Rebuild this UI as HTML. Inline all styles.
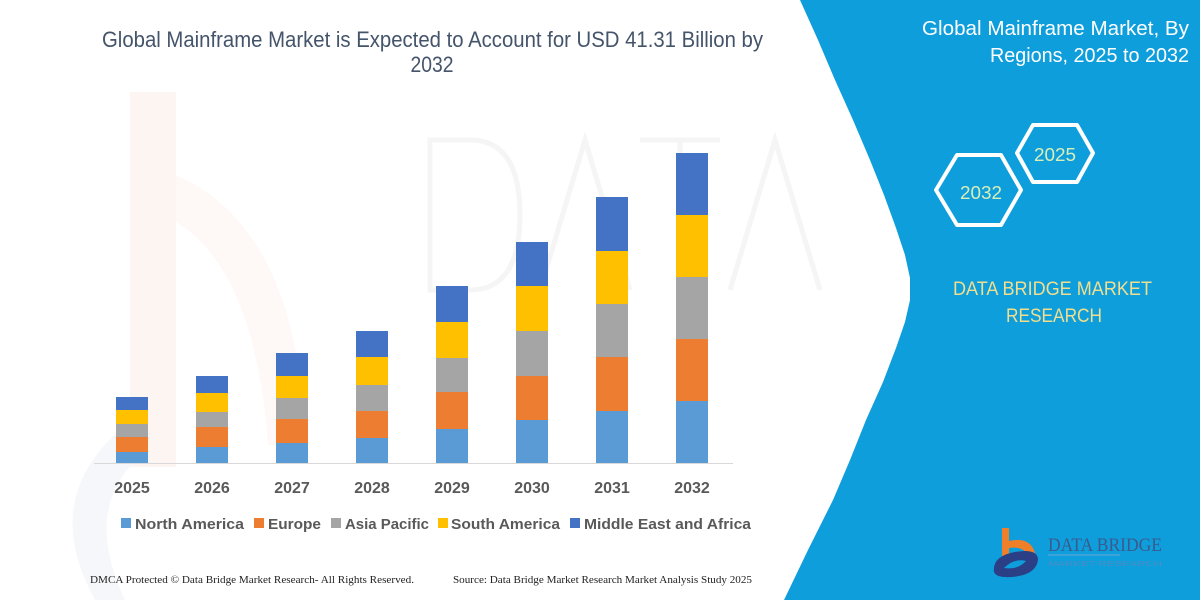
<!DOCTYPE html>
<html>
<head>
<meta charset="utf-8">
<style>
  html,body{margin:0;padding:0;background:#fff;}
  body{width:1200px;height:600px;overflow:hidden;}
  svg{display:block;}
</style>
</head>
<body>
<svg width="1200" height="600" viewBox="0 0 1200 600" xmlns="http://www.w3.org/2000/svg">
  <rect x="0" y="0" width="1200" height="600" fill="#ffffff"/>

  <!-- faint watermark: big "b" logo on left -->
  <rect x="130" y="92" width="46" height="375" fill="#fdf5f2"/>
  <path d="M176,175 Q300,230 305,445 L268,445 Q255,270 176,222 Z" fill="#fef9f7"/>
  <path d="M120,430 Q40,500 95,600 L125,600 Q80,505 145,452 Z" fill="#f6f7fa"/>
  <!-- faint watermark letters -->
  <g fill="none" stroke="#f5f5f5" stroke-width="5">
    <path d="M430,140 L430,290 L470,290 Q520,290 520,215 Q520,140 470,140 Z"/>
    <path d="M540,290 L585,140 L630,290"/>
    <path d="M640,140 L720,140 M680,140 L680,290"/>
    <path d="M730,290 L775,140 L820,290"/>
  </g>

  <!-- blue right panel -->
  <path d="M800,0 L818,40 L835,80 L853,120 L870,160 L884,195 L896,228 L905,255 L910,278 L910,300 L905,322 L896,348 L883,382 L866,420 L850,460 L833,500 L808,550 L784,600 L1200,600 L1200,0 Z" fill="#0e9edb"/>

  <!-- title -->
  <text x="102" y="47" font-family="Liberation Sans, sans-serif" font-size="22" fill="#44546a" textLength="661" lengthAdjust="spacingAndGlyphs">Global Mainframe Market is Expected to Account for USD 41.31 Billion by</text>
  <text x="432" y="72" font-family="Liberation Sans, sans-serif" font-size="22" fill="#44546a" text-anchor="middle" textLength="43" lengthAdjust="spacingAndGlyphs">2032</text>

  <!-- bars -->
  <g>
    <!-- 2025 -->
    <rect x="116" y="397" width="32" height="13" fill="#4472c4"/>
    <rect x="116" y="410" width="32" height="14" fill="#ffc000"/>
    <rect x="116" y="424" width="32" height="13" fill="#a5a5a5"/>
    <rect x="116" y="437" width="32" height="15" fill="#ed7d31"/>
    <rect x="116" y="452" width="32" height="11" fill="#5b9bd5"/>
    <!-- 2026 -->
    <rect x="196" y="376" width="32" height="17" fill="#4472c4"/>
    <rect x="196" y="393" width="32" height="19" fill="#ffc000"/>
    <rect x="196" y="412" width="32" height="15" fill="#a5a5a5"/>
    <rect x="196" y="427" width="32" height="20" fill="#ed7d31"/>
    <rect x="196" y="447" width="32" height="16" fill="#5b9bd5"/>
    <!-- 2027 -->
    <rect x="276" y="353" width="32" height="23" fill="#4472c4"/>
    <rect x="276" y="376" width="32" height="22" fill="#ffc000"/>
    <rect x="276" y="398" width="32" height="21" fill="#a5a5a5"/>
    <rect x="276" y="419" width="32" height="24" fill="#ed7d31"/>
    <rect x="276" y="443" width="32" height="20" fill="#5b9bd5"/>
    <!-- 2028 -->
    <rect x="356" y="331" width="32" height="26" fill="#4472c4"/>
    <rect x="356" y="357" width="32" height="28" fill="#ffc000"/>
    <rect x="356" y="385" width="32" height="26" fill="#a5a5a5"/>
    <rect x="356" y="411" width="32" height="27" fill="#ed7d31"/>
    <rect x="356" y="438" width="32" height="25" fill="#5b9bd5"/>
    <!-- 2029 -->
    <rect x="436" y="286" width="32" height="36" fill="#4472c4"/>
    <rect x="436" y="322" width="32" height="36" fill="#ffc000"/>
    <rect x="436" y="358" width="32" height="34" fill="#a5a5a5"/>
    <rect x="436" y="392" width="32" height="37" fill="#ed7d31"/>
    <rect x="436" y="429" width="32" height="34" fill="#5b9bd5"/>
    <!-- 2030 -->
    <rect x="516" y="242" width="32" height="44" fill="#4472c4"/>
    <rect x="516" y="286" width="32" height="45" fill="#ffc000"/>
    <rect x="516" y="331" width="32" height="45" fill="#a5a5a5"/>
    <rect x="516" y="376" width="32" height="44" fill="#ed7d31"/>
    <rect x="516" y="420" width="32" height="43" fill="#5b9bd5"/>
    <!-- 2031 -->
    <rect x="596" y="197" width="32" height="54" fill="#4472c4"/>
    <rect x="596" y="251" width="32" height="53" fill="#ffc000"/>
    <rect x="596" y="304" width="32" height="53" fill="#a5a5a5"/>
    <rect x="596" y="357" width="32" height="54" fill="#ed7d31"/>
    <rect x="596" y="411" width="32" height="52" fill="#5b9bd5"/>
    <!-- 2032 -->
    <rect x="676" y="153" width="32" height="62" fill="#4472c4"/>
    <rect x="676" y="215" width="32" height="62" fill="#ffc000"/>
    <rect x="676" y="277" width="32" height="62" fill="#a5a5a5"/>
    <rect x="676" y="339" width="32" height="62" fill="#ed7d31"/>
    <rect x="676" y="401" width="32" height="62" fill="#5b9bd5"/>
  </g>

  <!-- axis -->
  <line x1="94" y1="463.5" x2="733" y2="463.5" stroke="#d9d9d9" stroke-width="1"/>

  <!-- year labels -->
  <g font-family="Liberation Sans, sans-serif" font-size="16" font-weight="bold" fill="#595959" text-anchor="middle">
    <text x="132" y="493">2025</text>
    <text x="212" y="493">2026</text>
    <text x="292" y="493">2027</text>
    <text x="372" y="493">2028</text>
    <text x="452" y="493">2029</text>
    <text x="532" y="493">2030</text>
    <text x="612" y="493">2031</text>
    <text x="692" y="493">2032</text>
  </g>

  <!-- legend -->
  <g font-family="Liberation Sans, sans-serif" font-size="15" font-weight="bold" fill="#595959">
    <rect x="121" y="518" width="10" height="10" fill="#5b9bd5"/>
    <text x="135" y="529" textLength="109" lengthAdjust="spacingAndGlyphs">North America</text>
    <rect x="254" y="518" width="10" height="10" fill="#ed7d31"/>
    <text x="268" y="529" textLength="53" lengthAdjust="spacingAndGlyphs">Europe</text>
    <rect x="331" y="518" width="10" height="10" fill="#a5a5a5"/>
    <text x="345" y="529" textLength="84" lengthAdjust="spacingAndGlyphs">Asia Pacific</text>
    <rect x="438" y="518" width="10" height="10" fill="#ffc000"/>
    <text x="451" y="529" textLength="109" lengthAdjust="spacingAndGlyphs">South America</text>
    <rect x="570" y="518" width="10" height="10" fill="#4472c4"/>
    <text x="584" y="529" textLength="167" lengthAdjust="spacingAndGlyphs">Middle East and Africa</text>
  </g>

  <!-- footer -->
  <g font-family="Liberation Serif, serif" font-size="11" fill="#222">
    <text x="90" y="583" textLength="324" lengthAdjust="spacingAndGlyphs">DMCA Protected © Data Bridge Market Research-  All Rights Reserved.</text>
    <text x="453" y="583" textLength="299" lengthAdjust="spacingAndGlyphs">Source: Data Bridge Market Research  Market Analysis Study 2025</text>
  </g>

  <!-- right panel title -->
  <g font-family="Liberation Sans, sans-serif" font-size="20" fill="#ffffff">
    <text x="922" y="35" textLength="267" lengthAdjust="spacingAndGlyphs">Global Mainframe Market, By</text>
    <text x="990" y="62" textLength="199" lengthAdjust="spacingAndGlyphs">Regions, 2025 to 2032</text>
  </g>

  <!-- hexagons -->
  <g fill="none" stroke="#ffffff" stroke-width="4" stroke-linejoin="round">
    <path d="M936,190 L957,155 L1001,155 L1021,190 L1001,225 L957,225 Z"/>
    <path d="M1017,153 L1033,125 L1077,125 L1093,153 L1077,182 L1033,182 Z"/>
  </g>
  <g font-family="Liberation Sans, sans-serif" font-size="18" fill="#d9efb8" text-anchor="middle">
    <text x="981" y="199" textLength="42" lengthAdjust="spacingAndGlyphs">2032</text>
    <text x="1055" y="161" textLength="42" lengthAdjust="spacingAndGlyphs">2025</text>
  </g>

  <!-- DBMR text -->
  <g font-family="Liberation Sans, sans-serif" font-size="19" fill="#f1de8e">
    <text x="953" y="295" textLength="199" lengthAdjust="spacingAndGlyphs">DATA BRIDGE MARKET</text>
    <text x="1006" y="322" textLength="96" lengthAdjust="spacingAndGlyphs">RESEARCH</text>
  </g>

  <!-- logo -->
  <g>
    <rect x="1002" y="528" width="7" height="28" fill="#f07f2a"/>
    <path d="M1009,541 Q1030,536 1035,553 L1028,556 Q1024,546 1009,548 Z" fill="#f07f2a"/>
    <path d="M994,572 Q992,556 1015,552 Q1038,548 1038,560 Q1036,575 1012,577 Q996,578 994,572 Z M1004,568 Q1018,570 1026,561 Q1014,558 1004,568 Z" fill="#2b3f86" fill-rule="evenodd"/>
    <text x="1048" y="551" font-family="Liberation Serif, serif" font-size="19" fill="#3b5a8e" textLength="114" lengthAdjust="spacingAndGlyphs">DATA BRIDGE</text>
    <line x1="1048" y1="555" x2="1120" y2="555" stroke="#6aa7d6" stroke-width="1"/>
    <text x="1048" y="566" font-family="Liberation Sans, sans-serif" font-size="7" fill="#4d8cc4" textLength="114" lengthAdjust="spacingAndGlyphs">MARKET RESEARCH</text>
  </g>
</svg>
</body>
</html>
